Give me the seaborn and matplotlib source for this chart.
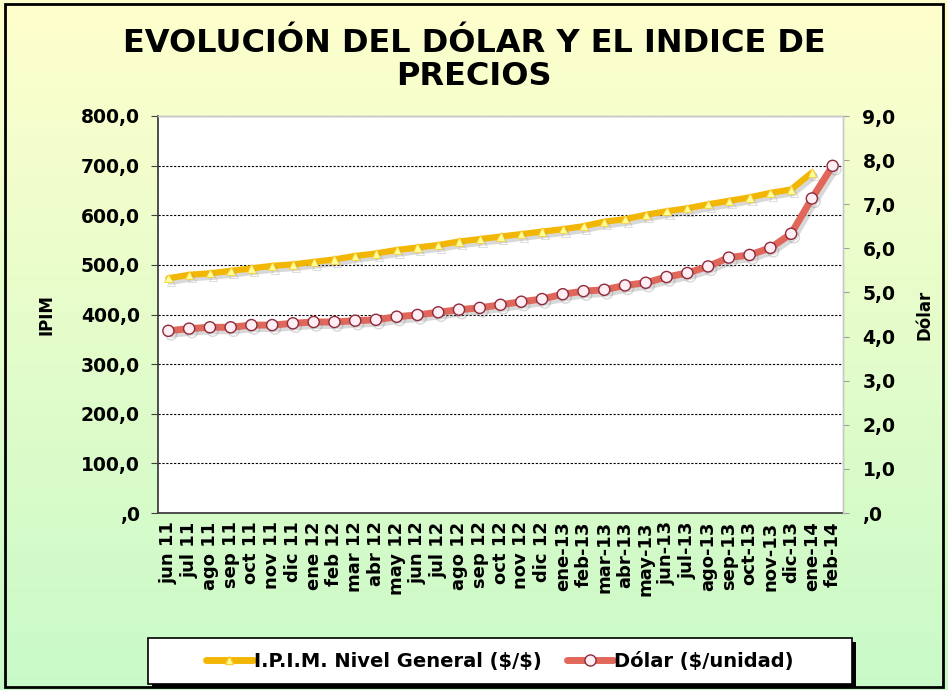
import numpy as np
import pandas as pd
import matplotlib
matplotlib.use("Agg")
import matplotlib.pyplot as plt
import matplotlib.patheffects as pe
from matplotlib.ticker import FuncFormatter, MultipleLocator, FixedLocator
from matplotlib.patches import Rectangle
from matplotlib.lines import Line2D
import seaborn as sns

# Monthly categories (jun 2011 - feb 2014)
meses = ["jun 11", "jul 11", "ago 11", "sep 11", "oct 11", "nov 11", "dic 11",
         "ene 12", "feb 12", "mar 12", "abr 12", "may 12", "jun 12", "jul 12",
         "ago 12", "sep 12", "oct 12", "nov 12", "dic 12",
         "ene-13", "feb-13", "mar-13", "abr-13", "may-13", "jun-13", "jul-13",
         "ago-13", "sep-13", "oct-13", "nov-13", "dic-13", "ene-14", "feb-14"]

# I.P.I.M. Nivel General (left axis), available until ene-14
ipim = [473, 480, 483, 488, 493, 498, 501, 506, 511, 518, 523,
        530, 535, 540, 547, 552, 557, 562, 567, 572, 578,
        587, 592, 601, 608, 614, 622, 629, 636, 645, 652, 686]

# Dólar ($/unidad) (right axis)
dolar = [4.13, 4.18, 4.21, 4.21, 4.26, 4.26, 4.30, 4.33, 4.33, 4.36, 4.38,
         4.45, 4.49, 4.55, 4.61, 4.65, 4.72, 4.79, 4.85, 4.96, 5.03, 5.06,
         5.16, 5.22, 5.35, 5.44, 5.59, 5.79, 5.85, 6.01, 6.33, 7.13, 7.87]

titulo = "EVOLUCIÓN DEL DÓLAR Y EL INDICE DE\nPRECIOS"
lbl_ipim = "I.P.I.M. Nivel General ($/$)"
lbl_dolar = "Dólar ($/unidad)"

df_ipim = pd.DataFrame({"x": np.arange(len(ipim)), "v": ipim})
df_dolar = pd.DataFrame({"x": np.arange(len(dolar)), "v": dolar})

sns.set_style("white")
plt.rcParams["font.family"] = ["DejaVu Sans"]
plt.rcParams["font.weight"] = "bold"
plt.rcParams["text.parse_math"] = False
plt.rcParams["text.color"] = "black"
plt.rcParams["xtick.color"] = "black"
plt.rcParams["ytick.color"] = "black"
plt.rcParams["axes.labelcolor"] = "black"

W, H = 948, 690
fig = plt.figure(figsize=(W / 100, H / 100), dpi=100)

# Yellow-to-green gradient background with an outer frame
bg = fig.add_axes([0, 0, 1, 1], zorder=0)
top = np.array([255, 255, 205]) / 255
bot = np.array([200, 250, 200]) / 255
t = np.linspace(0, 1, 256)[:, None]
grad = (top[None, :] * (1 - t) + bot[None, :] * t)[:, None, :]
bg.imshow(grad, aspect="auto", extent=[0, 1, 0, 1])
bg.set_xlim(0, 1)
bg.set_ylim(0, 1)
bg.axis("off")
bg.add_patch(Rectangle((5 / W, 3 / H), 938 / W, 683 / H, fill=False,
                       edgecolor="black", linewidth=2, transform=bg.transAxes))

# Legend box (white panel with a solid drop shadow)
lx0, lx1, ly0, ly1 = 148, 852, 638, 684
bg.add_patch(Rectangle(((lx0 + 4) / W, 1 - (ly1 + 4) / H), (lx1 - lx0) / W,
                       (ly1 - ly0) / H, facecolor="black", edgecolor="none",
                       transform=bg.transAxes, zorder=2))
bg.add_patch(Rectangle((lx0 / W, 1 - ly1 / H), (lx1 - lx0) / W, (ly1 - ly0) / H,
                       facecolor="white", edgecolor="black", linewidth=1.2,
                       transform=bg.transAxes, zorder=3))

L, R, T, B = 158, 843, 116, 513
ax = fig.add_axes([L / W, 1 - B / H, (R - L) / W, (B - T) / H], zorder=1)
ax.set_facecolor("white")
ax2 = ax.twinx()

shadow = [pe.SimpleLineShadow(offset=(2, -2.5), shadow_color="#7f7f7f", alpha=0.3),
          pe.Normal()]

c_ipim, c_dolar = "#F2B705", "#E0675A"

sns.lineplot(data=df_ipim, x="x", y="v", ax=ax, color=c_ipim, linewidth=4.5,
             marker="^", markersize=6, markerfacecolor="#FFFF99",
             markeredgecolor="#F8D040", markeredgewidth=0.6)
ax.lines[-1].set_path_effects(shadow)

sns.lineplot(data=df_dolar, x="x", y="v", ax=ax2, color=c_dolar, linewidth=5,
             marker="o", markersize=8, markerfacecolor="#FFEFF4",
             markeredgecolor="#8E2A3A", markeredgewidth=1.0)
ax2.lines[-1].set_path_effects(shadow)

ax.set_xlim(-0.5, len(meses) - 0.5)
ax.set_ylim(0, 800)
ax2.set_ylim(0, 9)

def coma(v, _):
    s = f"{v:.1f}".replace(".", ",")
    return ",0" if abs(v) < 1e-9 else s

ax.yaxis.set_major_locator(MultipleLocator(100))
ax.yaxis.set_major_formatter(FuncFormatter(coma))
ax2.yaxis.set_major_locator(MultipleLocator(1))
ax2.yaxis.set_major_formatter(FuncFormatter(coma))

ax.grid(axis="y", color="black", linestyle=(0, (2, 1.5)), linewidth=0.8)
ax.grid(axis="x", visible=False)
ax2.grid(False)

ax.set_xticks(np.arange(len(meses)))
ax.set_xticklabels(meses, rotation=90, fontsize=13, fontweight="bold")
ax.xaxis.set_minor_locator(FixedLocator(np.arange(-0.5, len(meses), 1.0)))
ax.tick_params(axis="x", which="major", length=0, pad=6)
ax.tick_params(axis="x", which="minor", length=8, direction="inout",
               color="#404040", width=1)
ax.tick_params(axis="y", which="major", length=5, direction="out",
               color="#404040", labelsize=13.5, pad=8)
ax2.tick_params(axis="y", which="major", length=4, direction="out",
                color="#A0A0A0", labelsize=13.5, pad=10)
for lab in ax.get_yticklabels() + ax2.get_yticklabels():
    lab.set_fontweight("bold")

ax.set_xlabel("")
ax.set_ylabel("IPIM", fontsize=12, fontweight="bold", labelpad=18)
ax2.set_ylabel("Dólar", fontsize=12, fontweight="bold", labelpad=14)

for a in (ax, ax2):
    for side, sp in a.spines.items():
        sp.set_linewidth(1)
        sp.set_color("#C8C8C8")
ax.spines["left"].set_color("#404040")
ax.spines["left"].set_linewidth(1.3)
ax.spines["bottom"].set_color("#404040")
ax.spines["bottom"].set_linewidth(1.3)
ax2.spines["left"].set_visible(False)
ax2.spines["bottom"].set_visible(False)

fig.text(0.5, 1 - 60 / H, titulo, ha="center", va="center", fontsize=23,
         fontweight="bold", linespacing=1.1)

handles = [
    Line2D([], [], color=c_ipim, linewidth=5, marker="^", markersize=6,
           markerfacecolor="#FFFF99", markeredgecolor="#F8D040"),
    Line2D([], [], color=c_dolar, linewidth=5, marker="o", markersize=8,
           markerfacecolor="#FFEFF4", markeredgecolor="#8E2A3A"),
]
leg = fig.legend(handles, [lbl_ipim, lbl_dolar], loc="center",
                 bbox_to_anchor=((lx0 + lx1) / 2 / W, 1 - (ly0 + ly1) / 2 / H),
                 ncol=2, frameon=False,
                 prop={"weight": "bold", "size": 14}, handlelength=2.4,
                 handletextpad=0.05, columnspacing=1.3, borderpad=0.3,
                 borderaxespad=0)
leg.set_zorder(5)

fig.savefig("out.png", dpi=100)
